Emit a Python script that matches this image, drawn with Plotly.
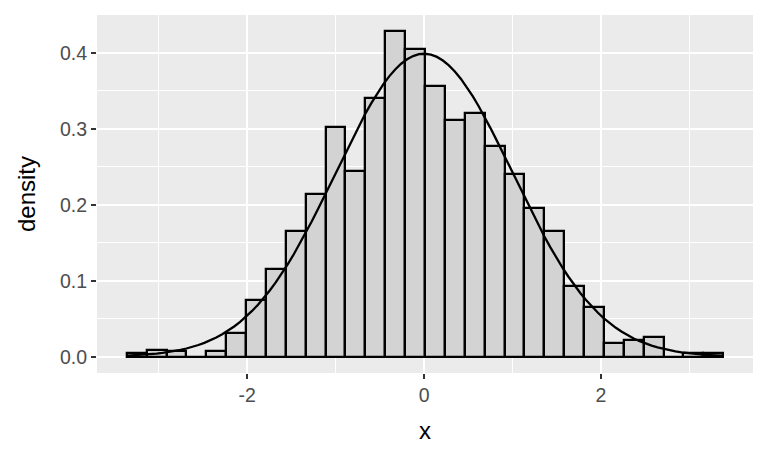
import numpy as np
import plotly.graph_objects as go

# Histogram: 30 bins, densities
bin_start = -3.36
bin_width = 0.2247
densities = [0.0044, 0.0089, 0.0070, 0.0, 0.0070, 0.031, 0.075, 0.116, 0.165, 0.214,
             0.303, 0.245, 0.340, 0.4285, 0.405, 0.357, 0.312, 0.321, 0.277, 0.241,
             0.196, 0.165, 0.093, 0.066, 0.0175, 0.022, 0.026, 0.0, 0.0044, 0.0044]

# Overlaid normal density curve parameters
curve_mean = 0.0
curve_sd = 1.0

x_tickvals = [-2, 0, 2]
x_ticktext = ["-2", "0", "2"]
y_tickvals = [0.0, 0.1, 0.2, 0.3, 0.4]
y_ticktext = ["0.0", "0.1", "0.2", "0.3", "0.4"]

n_bins = len(densities)
centers = [bin_start + bin_width * (i + 0.5) for i in range(n_bins)]
x_lo = bin_start
x_hi = bin_start + bin_width * n_bins
xs = np.linspace(x_lo, x_hi, 101)
ys = np.exp(-0.5 * ((xs - curve_mean) / curve_sd) ** 2) / (curve_sd * np.sqrt(2 * np.pi))

span = x_hi - x_lo
ymax = max(densities)

fig = go.Figure()
fig.add_trace(go.Bar(
    x=centers, y=densities, width=bin_width,
    marker=dict(color="#D3D3D3", line=dict(color="black", width=2.3)),
    hoverinfo="x+y", showlegend=False,
))
fig.add_trace(go.Scatter(
    x=xs, y=ys, mode="lines", line=dict(color="black", width=2.3),
    showlegend=False, hoverinfo="skip",
))

font_family = "Liberation Sans, Arial, sans-serif"
# page body has an 8px margin, so the figure is 760x452 placed at (8, 8)
fig.update_layout(
    width=760, height=452,
    margin=dict(l=89, r=15, t=7, b=87, autoexpand=False),
    paper_bgcolor="white", plot_bgcolor="#EBEBEB",
    bargap=0,
    font=dict(family=font_family),
)
fig.update_xaxes(
    range=[x_lo - 0.05 * span, x_hi + 0.05 * span],
    tickvals=x_tickvals, ticktext=x_ticktext,
    ticks="outside", ticklen=5, tickwidth=1.5, tickcolor="#333333",
    tickfont=dict(size=19.5, color="#4D4D4D"),
    showgrid=True, gridcolor="white", gridwidth=1.8,
    minor=dict(tickvals=[-3, -1, 1, 3], showgrid=True, gridcolor="white", gridwidth=0.9, ticks=""),
    zeroline=False, showline=False, automargin=False,
    title=dict(text="x", font=dict(size=24, color="black"), standoff=16),
)
fig.update_yaxes(
    range=[-0.05 * ymax, ymax * 1.05],
    tickvals=y_tickvals, ticktext=y_ticktext,
    ticks="outside", ticklen=5, tickwidth=1.5, tickcolor="#333333",
    tickfont=dict(size=19.5, color="#4D4D4D"),
    showgrid=True, gridcolor="white", gridwidth=1.8,
    minor=dict(tickvals=[0.05, 0.15, 0.25, 0.35, 0.45], showgrid=True, gridcolor="white", gridwidth=0.9, ticks=""),
    zeroline=False, showline=False, automargin=False,
    title=dict(text="density", font=dict(size=24, color="black"), standoff=17),
)

fig.write_html("out.html")
